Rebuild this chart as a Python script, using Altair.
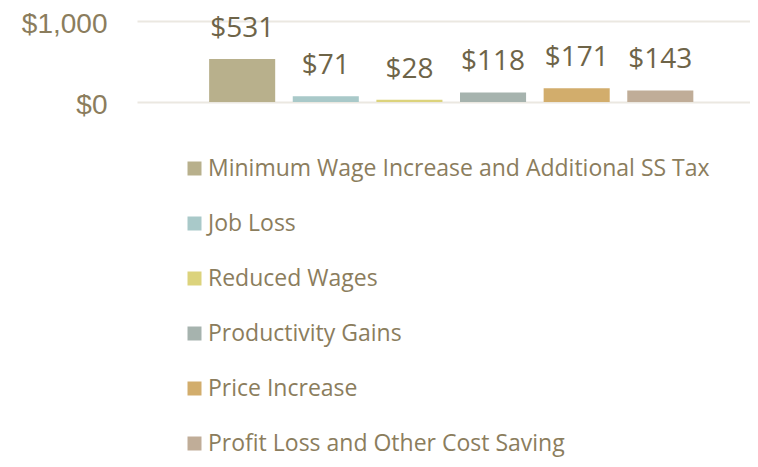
import altair as alt
import pandas as pd

categories = [
    "Minimum Wage Increase and Additional  SS Tax",
    "Job Loss",
    "Reduced Wages",
    "Productivity Gains",
    "Price Increase",
    "Profit Loss and Other Cost Saving",
]
values = [531, 71, 28, 118, 171, 143]
colors = ["#b8b08c", "#a9c9c9", "#dcd37c", "#a6b3ae", "#d2ad6c", "#c0ad98"]
y_ticks = [0, 1000]

df = pd.DataFrame({"category": categories, "value": values})

FONT = "Open Sans"

x = alt.X("category:N", sort=categories, axis=None,
          scale=alt.Scale(paddingInner=0.21, paddingOuter=0.77, align=0.56))
y = alt.Y("value:Q",
          scale=alt.Scale(domain=[0, 1000], nice=False),
          axis=alt.Axis(values=y_ticks, format="$,.0f", title=None,
                        domain=False, ticks=False, labelFontSize=28,
                        labelColor="#8b7d5d", labelFont="Liberation Sans",
                        labelPadding=30, labelOffset=3,
                        gridColor="#ebe8e1", gridWidth=2))

bars = alt.Chart(df).mark_bar().encode(
    x=x, y=y,
    color=alt.Color("category:N", sort=categories,
                    scale=alt.Scale(domain=categories, range=colors),
                    legend=alt.Legend(title=None, orient="none", legendX=46, legendY=136,
                                      direction="vertical", symbolType="square",
                                      symbolSize=196, symbolStrokeWidth=0,
                                      labelFontSize=23, labelColor="#8b7d5d",
                                      labelFont=FONT, labelLimit=700, labelOffset=2,
                                      rowPadding=31, padding=0)),
)

labels = alt.Chart(df).mark_text(fontSize=28, font=FONT, color="#6e6448",
                                 baseline="middle", dy=-30).encode(
    x=x, y=y, text=alt.Text("value:Q", format="$,.0f"),
)

chart = (bars + labels).properties(
    width=613, height=81,
    autosize=alt.AutoSizeParams(type="none"),
    padding={"left": 129, "top": 13, "right": 0, "bottom": 357},
    background="white",
).configure_view(stroke=None)

chart.save("out.html", embed_options={"renderer": "svg", "actions": False})
